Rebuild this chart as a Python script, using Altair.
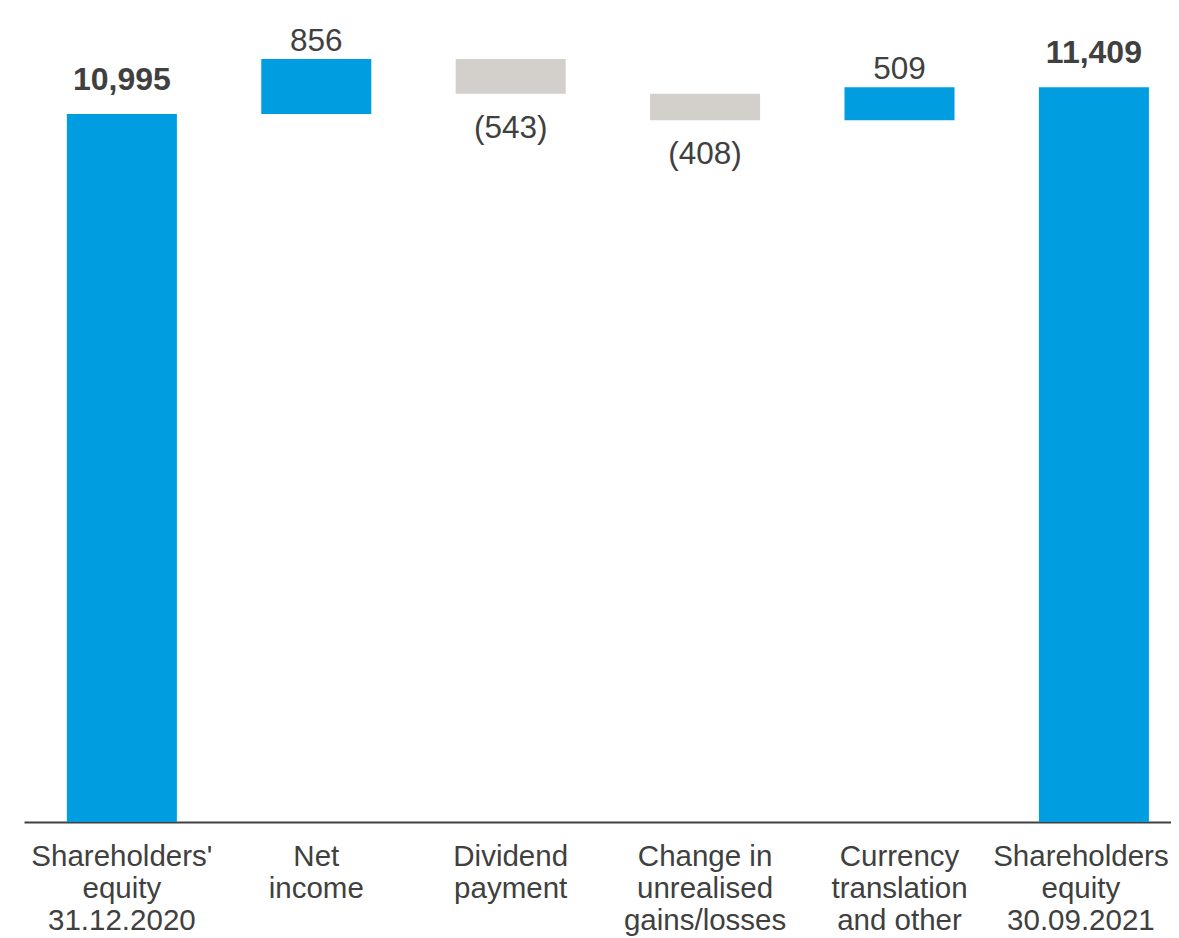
import altair as alt
import pandas as pd

categories = [
    "Shareholders'|equity|31.12.2020",
    "Net|income",
    "Dividend|payment",
    "Change in|unrealised|gains/losses",
    "Currency|translation|and other",
    "Shareholders|equity|30.09.2021",
]
values = [10995, 856, -543, -408, 509, 11409]
kinds = ["total", "delta", "delta", "delta", "delta", "total"]
labels = ["10,995", "856", "(543)", "(408)", "509", "11,409"]

rows = []
running = 0
for c, v, k, t in zip(categories, values, kinds, labels):
    if k == "total":
        start, end = 0, v
        running = v
    else:
        start, end = running, running + v
        running = running + v
    if k == "total":
        group = "total"
    elif v >= 0:
        group = "pos"
    else:
        group = "neg"
    rows.append({"cat": c, "start": start, "end": end,
                 "top": max(start, end), "bottom": min(start, end),
                 "group": group, "text": t})
df = pd.DataFrame(rows)

BLUE = "#009EE0"
GREY = "#D3D0CB"
TEXT = "#404040"
FONT = "Liberation Sans"

x = alt.X("cat:N", sort=categories, title=None,
          scale=alt.Scale(paddingInner=0.434, paddingOuter=0.167, align=0.66),
          axis=alt.Axis(labelExpr="split(datum.label, '|')", labelAngle=0,
                        labelFontSize=29.5, labelLineHeight=32, labelFont=FONT,
                        labelColor=TEXT, labelPadding=20, ticks=False, labelLimit=0,
                        labelOffset={"condition": {"test": "indexof(datum.value, '30.09') >= 0",
                                                   "value": -13}, "value": 0},
                        domainColor=TEXT, domainWidth=2, labelBaseline="top"))

base = alt.Chart(df)

bars = base.mark_bar().encode(
    x=x,
    y=alt.Y("start:Q", scale=alt.Scale(domain=[0, 12424], nice=False, zero=True), axis=None),
    y2="end:Q",
    color=alt.Color("group:N",
                    scale=alt.Scale(domain=["total", "pos", "neg"],
                                    range=[BLUE, BLUE, GREY]),
                    legend=None),
)

txt_pos = base.transform_filter("datum.group == 'pos'").mark_text(
    fontSize=31.5, font=FONT, color=TEXT, baseline="middle", dy=-17
).encode(x=x, y=alt.Y("top:Q"), text="text:N")

txt_tot = base.transform_filter("datum.group == 'total'").mark_text(
    fontSize=32, font=FONT, color=TEXT, fontWeight="bold", baseline="middle", dy=-34
).encode(x=x, y=alt.Y("top:Q"), text="text:N")

txt_neg = base.transform_filter("datum.group == 'neg'").mark_text(
    fontSize=31.5, font=FONT, color=TEXT, baseline="middle", dy=35
).encode(x=x, y=alt.Y("bottom:Q"), text="text:N")

chart = alt.layer(bars, txt_pos, txt_tot, txt_neg).properties(
    width=1147, height=800,
    padding={"left": 16, "top": 14, "right": 0, "bottom": 116},
    autosize=alt.AutoSizeParams(type="none"),
    background="white",
).configure_view(stroke=None)

chart.save("out.html", embed_options={"renderer": "svg", "actions": False})
